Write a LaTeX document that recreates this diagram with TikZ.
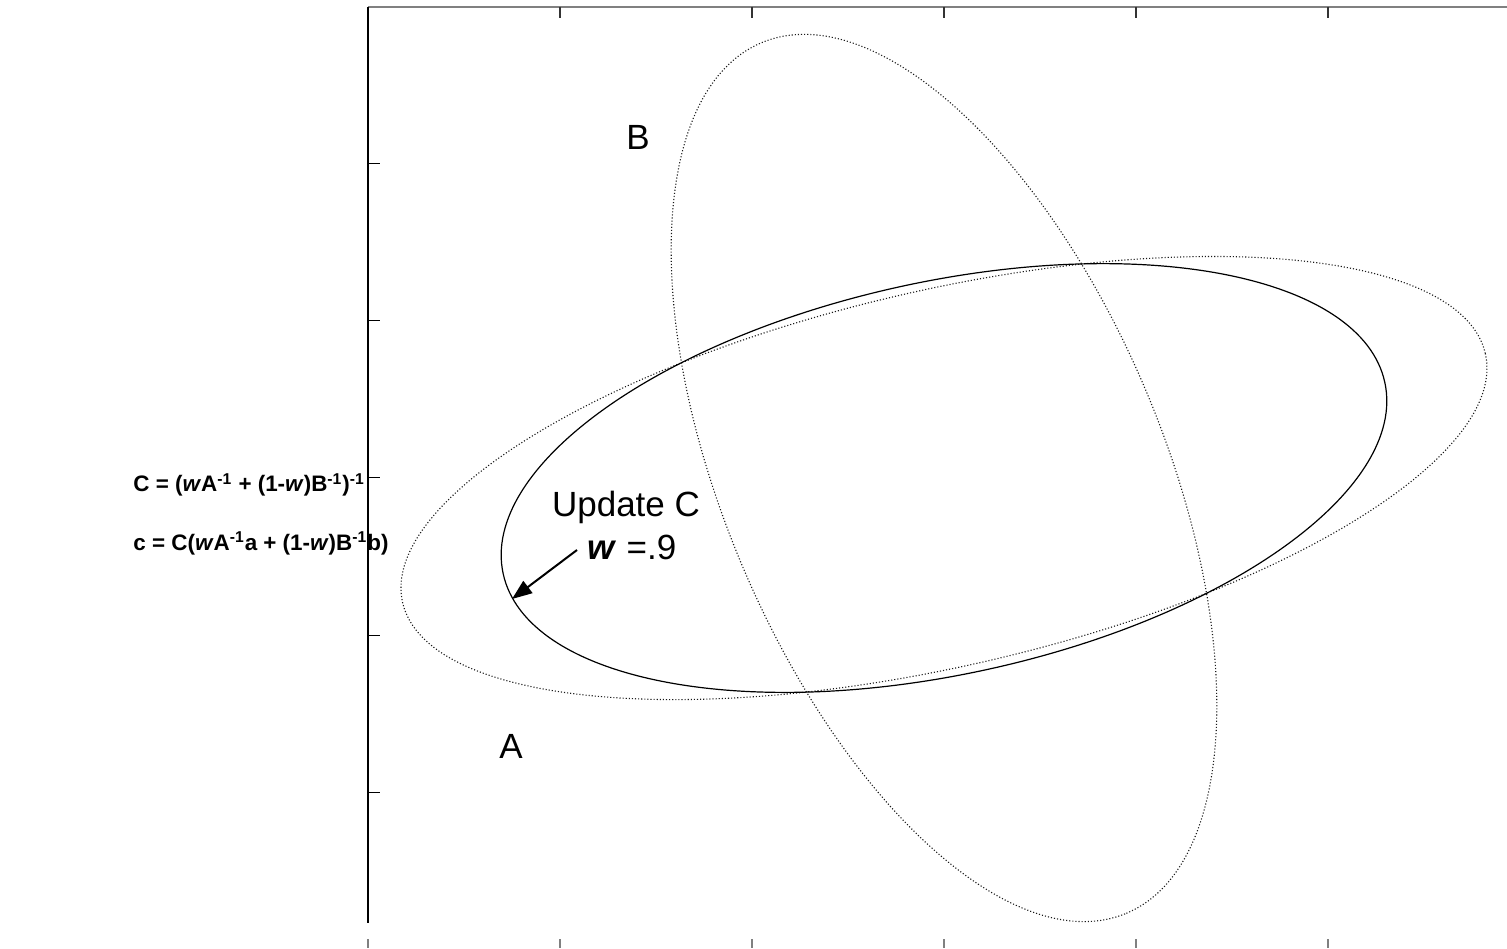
\documentclass[tikz,border=0pt]{standalone}
\usepackage{fontspec}
\setmainfont{Liberation Sans}
\usetikzlibrary{arrows.meta}

\tikzset{
  guess/.style={densely dotted, line width=0.55pt, black!90},
  fused/.style={line width=0.6pt, black},
  lbl/.style={font=\fontsize{17.5}{21}\selectfont, inner sep=0pt, anchor=base},
  eqn/.style={font=\bfseries\fontsize{11.2}{13}\selectfont, inner sep=0pt, anchor=base west},
}

\begin{document}
\begin{tikzpicture}[x=0.5pt, y=0.5pt]
\useasboundingbox (0,0) rectangle (1507,948);
\coordinate (ctr) at (944,470);
% frame
\draw[gray, line width=1pt] (368,941) -- (1507,941);
\draw[line width=1.3pt] (368,941) -- (368,25);
\foreach \x in {560,752,944,1136,1328}{
  \draw[black!80, line width=0.8pt] (\x,941) -- (\x,930);
}
\foreach \x in {368,560,752,944,1136,1328}{
  \draw[gray, line width=0.8pt] (\x,9) -- (\x,0);
}
\foreach \k in {-2,...,2}{
  \draw[line width=0.5pt] (368,470+157*\k) -- (380,470+157*\k);
}
% ellipses
\draw[guess, rotate around={12.96:(ctr)}] (ctr) ellipse [x radius=555.5, y radius=188];
\draw[guess, rotate around={-67.27:(ctr)}] (ctr) ellipse [x radius=472, y radius=220];
\draw[fused, rotate around={12.24:(ctr)}] (ctr) ellipse [x radius=451.1, y radius=196.3];
% labels
\node[lbl] (labB) at (638,798) {B};
\node[lbl] (labA) at (511,190) {A};
\node[lbl] (upd) at (626,431) {Update C};
\node[lbl] (wval) at (632,388) {\textbf{\textit{w}} =.9};
\coordinate (tail) at (577,398);
\coordinate (tip) at (512,349);
\draw[line width=1pt, -{Triangle[length=10pt, width=7.5pt]}] (tail) -- (tip);
\node[eqn] (covC) at (133,456) {C = (\textit{w}A\textsuperscript{-1} + (1-\textit{w})B\textsuperscript{-1})\textsuperscript{-1}};
\node[eqn] (meanc) at (133,398) {c = C(\textit{w}A\textsuperscript{-1}a + (1-\textit{w})B\textsuperscript{-1}b)};
\end{tikzpicture}
\end{document}
